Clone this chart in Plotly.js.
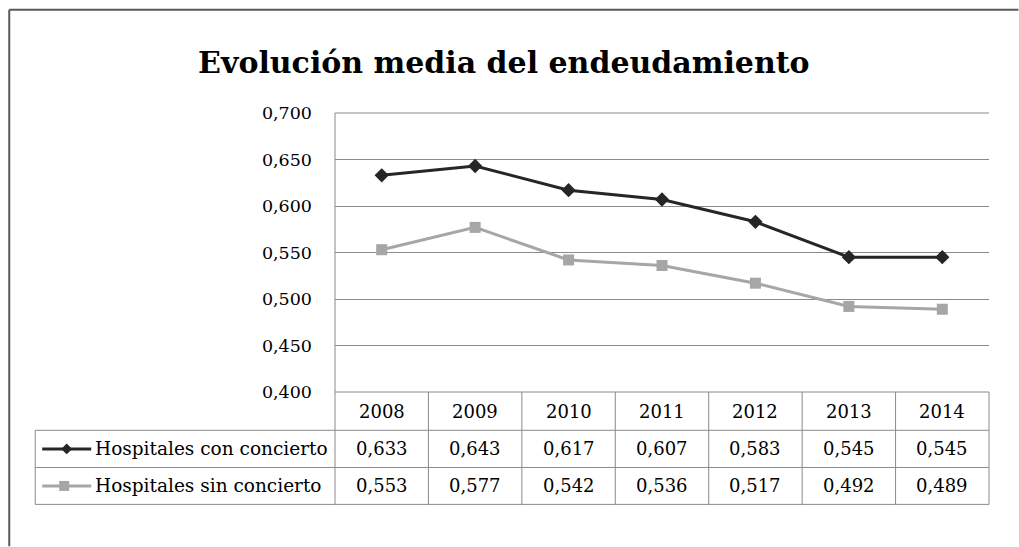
<!DOCTYPE html>
<html><head><meta charset="utf-8">
<script src="https://cdn.plot.ly/plotly-3.0.1.min.js"></script>
<style>html,body{margin:0;padding:0;background:#fff;}#chart{width:1019px;height:547px;}</style>
</head><body><div id="chart"></div>
<script>
const years = ['2008','2009','2010','2011','2012','2013','2014'];
const seriesNames = ['Hospitales con concierto','Hospitales sin concierto'];
const conConcierto = [0.633,0.643,0.617,0.607,0.583,0.545,0.545];
const sinConcierto = [0.553,0.577,0.542,0.536,0.517,0.492,0.489];
const yTicks = [0.400,0.450,0.500,0.550,0.600,0.650,0.700];

const W=1019,H=547, L=335, R=989.5, T=112.5, B=392.3;
const px = p => (p-L)/(R-L);
const py = p => (B-p)/(B-T);
const FONT = 'DejaVu Serif';
const GRID = '#8a8a8a';
const colors = ['#262626','#a6a6a6'];
const series = [conConcierto, sinConcierto];
const fmt = v => v.toFixed(3).replace('.', ',');
const xs = years.map((_,i)=>i);

const traces = series.map((s,k)=>({
  x: xs, y: s, type:'scatter', mode:'lines+markers', name: seriesNames[k],
  line:{color:colors[k], width:3},
  marker:{symbol: k===0?'diamond':'square', size: 11, color:colors[k]},
  hoverinfo:'skip', cliponaxis:false
}));

const rowTop = [392.3, 430.7, 468.0, 505.0];
const shapes = [];
const ln = (x0,y0,x1,y1,c,w)=>shapes.push({type:'line',layer:'below',xref:'paper',yref:'paper',x0:px(x0),y0:py(y0),x1:px(x1),y1:py(y1),line:{color:c,width:w}});
// outer frame
ln(9, 547, 9, 9, '#595959', 2);
ln(9, 9, 1019, 9, '#595959', 2);
// top gridline
ln(L, T, R, T, GRID, 1);
// table horizontal lines
ln(335, rowTop[0], R, rowTop[0], GRID, 1);
for (let r=1;r<4;r++) ln(35, rowTop[r], R, rowTop[r], GRID, 1);
// left label column border
ln(35, rowTop[1], 35, rowTop[3], GRID, 1);
// column separators
for (let i=0;i<=years.length;i++){
  const xp = i/years.length;
  shapes.push({type:'line',layer:'below',xref:'paper',yref:'paper',x0:xp,x1:xp,y0:py(i===0?T:rowTop[0]),y1:py(rowTop[3]),line:{color:GRID,width:1}});
}
// legend keys
const annotations = [];
for (let k=0;k<2;k++){
  const cy = (rowTop[k+1]+rowTop[k+2])/2;
  ln(42, cy, 91, cy, colors[k], 3);
  const cx = k===0?66.5:64;
  const h = 5.5;
  if (k===0){
    shapes.push({type:'path',xref:'paper',yref:'paper',
      path:`M ${px(cx)},${py(cy-h)} L ${px(cx+h)},${py(cy)} L ${px(cx)},${py(cy+h)} L ${px(cx-h)},${py(cy)} Z`,
      fillcolor:colors[k], line:{color:colors[k],width:0}});
  } else {
    shapes.push({type:'rect',xref:'paper',yref:'paper',x0:px(cx-5),x1:px(cx+5),y0:py(cy-5),y1:py(cy+5),
      fillcolor:colors[k], line:{color:colors[k],width:0}});
  }
  annotations.push({xref:'paper',yref:'paper',x:px(93),y:py(cy),xanchor:'left',yanchor:'middle',
    text:seriesNames[k],showarrow:false,font:{family:FONT,size:18.5,color:'#000'}});
  series[k].forEach((v,i)=>annotations.push({xref:'x',yref:'paper',x:i,y:py(cy),xanchor:'center',yanchor:'middle',
    text:fmt(v),showarrow:false,font:{family:FONT,size:18,color:'#000'}}));
}
years.forEach((yr,i)=>annotations.push({xref:'x',yref:'paper',x:i,y:py((rowTop[0]+rowTop[1])/2),xanchor:'center',yanchor:'middle',
  text:yr,showarrow:false,font:{family:FONT,size:18,color:'#000'}}));

const layout = {
  width:W, height:H, paper_bgcolor:'#fff', plot_bgcolor:'#fff',
  margin:{l:L, r:W-R, t:T, b:H-B, pad:0},
  separators:',.',
  showlegend:false,
  title:{text:'<b>Evolución media del endeudamiento</b>', font:{family:FONT,size:30,color:'#000'},
    xref:'paper', x:px(504), xanchor:'center', yref:'container', y:1-62/H, yanchor:'middle'},
  xaxis:{range:[-0.5,6.5], showgrid:false, zeroline:false, showticklabels:false, ticks:'', showline:false, fixedrange:true},
  yaxis:{range:[0.4,0.7], tickvals:yTicks, tickformat:'.3f', showgrid:true, gridcolor:GRID, gridwidth:1,
    zeroline:false, showline:false, ticks:'', ticklabelstandoff:22,
    tickfont:{family:FONT,size:17.5,color:'#000'}, fixedrange:true},
  shapes, annotations
};
Plotly.newPlot('chart', traces, layout, {displayModeBar:false, staticPlot:true});
</script></body></html>
